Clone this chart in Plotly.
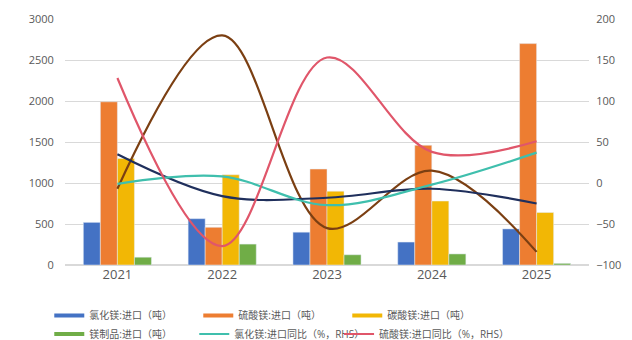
import plotly.graph_objects as go

years = ["2021", "2022", "2023", "2024", "2025"]

mgcl2_import = [520, 565, 400, 280, 440]
mgso4_import = [1990, 460, 1170, 1460, 2700]
mgco3_import = [1300, 1100, 900, 780, 640]
mg_products_import = [95, 255, 125, 135, 20]

mgcl2_yoy = [-1, 8, -27, -2, 37]
mgso4_yoy = [128, -77, 153, 38, 51]
extra_yoy_navy = [35, -16, -18, -7, -25]
extra_yoy_brown = [-7, 180, -55, 15, -84]

bar_names = ["氯化镁:进口（吨）", "硫酸镁:进口（吨）", "碳酸镁:进口（吨）", "镁制品:进口（吨）"]
bar_values = [mgcl2_import, mgso4_import, mgco3_import, mg_products_import]
bar_colors = ["#4472C4", "#ED7D31", "#F2B705", "#70AD47"]

line_names = ["氯化镁:进口同比（%，RHS）", "硫酸镁:进口同比（%，RHS）",
              "碳酸镁:进口同比（%，RHS）", "镁制品:进口同比（%，RHS）"]
line_values = [mgcl2_yoy, mgso4_yoy, extra_yoy_navy, extra_yoy_brown]
line_colors = ["#3FBFAD", "#E0566A", "#1F2F5C", "#7B3F12"]

FONT = "Open Sans, Noto Sans CJK SC, sans-serif"

fig = go.Figure()
for n, v, c in zip(bar_names, bar_values, bar_colors):
    fig.add_trace(go.Bar(x=years, y=v, name=n, marker_color=c, showlegend=False, yaxis="y"))

order = [3, 2, 0, 1]
for i in order:
    fig.add_trace(go.Scatter(x=years, y=line_values[i], name=line_names[i], mode="lines",
                             line=dict(color=line_colors[i], width=2.2, shape="spline", smoothing=1.0),
                             showlegend=False, yaxis="y2"))

# legend entries (drawn as lines, like the reference legend), 3 per row
for k, (n, c) in enumerate(zip(bar_names, bar_colors)):
    fig.add_trace(go.Scatter(x=[None], y=[None], name=n, mode="lines",
                             line=dict(color=c, width=4), yaxis="y",
                             legend="legend" if k < 3 else "legend2"))
fig.add_trace(go.Scatter(x=[None], y=[None], name=line_names[0], mode="lines",
                         line=dict(color=line_colors[0], width=2), yaxis="y2", legend="legend3"))
fig.add_trace(go.Scatter(x=[None], y=[None], name=line_names[1], mode="lines",
                         line=dict(color=line_colors[1], width=2), yaxis="y2", legend="legend4"))

base = dict(orientation="h", xanchor="left", yanchor="top",
            font=dict(size=10, color="#595959"), itemwidth=30, bgcolor="rgba(0,0,0,0)")
row1 = dict(base, entrywidth=104, entrywidthmode="pixels")

fig.update_layout(
    width=632, height=340,
    margin=dict(l=65, r=43, t=19, b=75, autoexpand=False),
    paper_bgcolor="white", plot_bgcolor="white",
    barmode="group", bargap=0.35, bargroupgap=0,
    font=dict(family=FONT, color="#595959", size=11),
    xaxis=dict(showgrid=False, showline=False, ticks="", tickfont=dict(size=13, color="#595959")),
    yaxis=dict(range=[0, 3000], dtick=500, showgrid=True, gridcolor="#D9D9D9", gridwidth=1,
               zeroline=True, zerolinecolor="#D9D9D9", showline=False,
               ticks="outside", ticklen=8, tickcolor="rgba(0,0,0,0)", tickfont=dict(size=11)),
    yaxis2=dict(range=[-100, 200], dtick=50, overlaying="y", side="right", showgrid=False,
                zeroline=False, showline=False, ticks="outside", ticklen=4,
                tickcolor="rgba(0,0,0,0)", tickfont=dict(size=11)),
    legend=dict(x=-0.03, y=-0.146, **row1),
    legend2=dict(x=-0.03, y=-0.222, **base),
    legend3=dict(x=0.2467, y=-0.222, **base),
    legend4=dict(x=0.523, y=-0.222, **base),
)

fig.write_html("out.html")
